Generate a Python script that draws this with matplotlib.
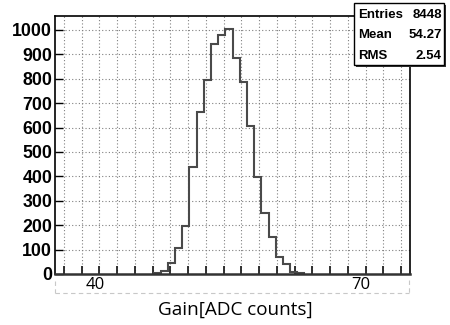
import numpy as np
import matplotlib
matplotlib.use("Agg")
import matplotlib.pyplot as plt
from matplotlib.lines import Line2D
from matplotlib.patches import Rectangle
from matplotlib.transforms import ScaledTranslation, blended_transform_factory

# histogram
bin_start = 46.1
bin_width = 0.81
counts = [3, 11, 46, 105, 197, 440, 665, 794, 941, 981, 1005,
          884, 787, 605, 399, 251, 153, 71, 40, 9, 3]

x_range = (35, 75)
y_max = 1057
x_grid = list(range(36, 75, 2))
x_labels = [40, 70]
y_ticks = list(range(0, 1001, 100))

stats_names = ["Entries", "Mean", "RMS"]
stats_values = ["8448", "54.27", "2.54"]

edges = bin_start + bin_width * np.arange(len(counts) + 1)

fig = plt.figure(figsize=(4.5, 3.25), dpi=100)
W, H = 450, 325
ax = fig.add_axes([55 / W, 1 - 274 / H, 355 / W, 258 / H])

ax.stairs(counts, edges, color="#4a4a4a", lw=1.5)

ax.set_xlim(*x_range)
ax.set_ylim(0, y_max)
ax.set_xticks(x_grid)
ax.set_xticklabels([])
ax.set_yticks(y_ticks)
ax.set_yticklabels([str(v) for v in y_ticks], fontfamily="Liberation Sans",
                   fontweight="bold", fontsize=12.8)
ax.tick_params(axis="x", direction="in", length=5.8, width=1.3, color="#222222")
ax.tick_params(axis="y", direction="in", length=5.8, width=1.0, pad=2)
ax.grid(True, color="#808080", linestyle=(0, (1, 2)), lw=0.8)
ax.set_axisbelow(True)
for s in ax.spines.values():
    s.set_linewidth(1.2)
ax.spines["bottom"].set_linewidth(1.8)
ax.spines["bottom"].set_color("#333333")

# pasted-on x labels, a bit left of their ticks
trans = blended_transform_factory(ax.transData, ax.transAxes) + \
    ScaledTranslation(-4.5 / 100, -10.7 / 100, fig.dpi_scale_trans)
for v in x_labels:
    ax.text(v, 0, str(v), transform=trans, ha="center", va="center",
            fontfamily="Open Sans", fontsize=12)

# faint dashed box of the overlay
for xs, ys in [((55, 409), (293, 293)), ((55, 55), (281, 293)), ((409, 409), (280, 293))]:
    fig.add_artist(Line2D([x / W for x in xs], [1 - y / H for y in ys],
                          color="#c8c8c8", lw=0.8, linestyle=(0, (4, 3))))

fig.text(235 / W, 1 - 310 / H, "Gain[ADC counts]", ha="center", va="center",
         fontfamily="Open Sans", fontsize=13.6)

# stats box
bx0, by0, bx1, by1 = 354, 3, 444, 65
fig.add_artist(Rectangle((bx0 / W + 2 / W, 1 - (by1 + 2) / H), (bx1 - bx0) / W, (by1 - by0) / H,
                         facecolor="#333333", edgecolor="none", transform=fig.transFigure))
fig.add_artist(Rectangle((bx0 / W, 1 - by1 / H), (bx1 - bx0) / W, (by1 - by0) / H,
                         facecolor="white", edgecolor="black", lw=1.0, transform=fig.transFigure))
for i, (name, val) in enumerate(zip(stats_names, stats_values)):
    yc = 1 - (15 + 20.5 * i) / H
    fig.text(358 / W, yc, name, ha="left", va="center", fontfamily="Liberation Sans",
             fontweight="bold", fontsize=9.5)
    fig.text(442 / W, yc, val, ha="right", va="center", fontfamily="Liberation Sans",
             fontweight="bold", fontsize=9.5)

fig.savefig("out.png", dpi=100)
